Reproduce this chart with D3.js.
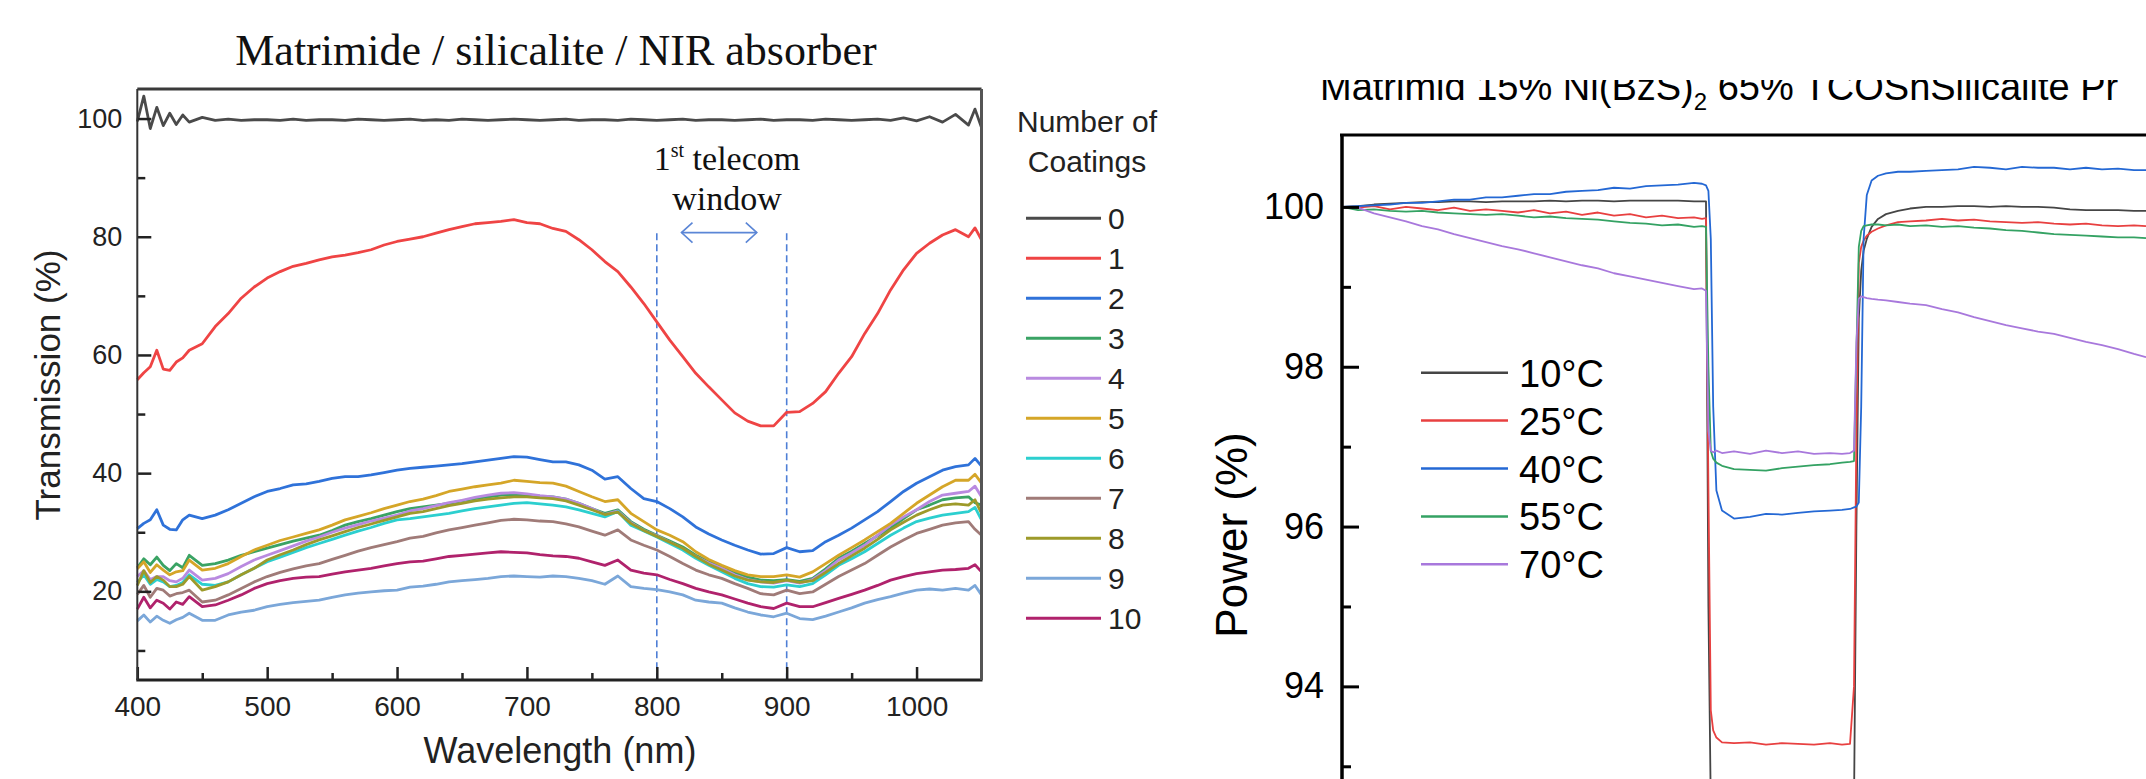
<!DOCTYPE html>
<html lang="en">
<head>
<meta charset="UTF-8">
<title>Matrimide / silicalite / NIR absorber</title>
<script src="https://d3js.org/d3.v7.min.js"></script>
<style>
  body { margin: 0; background: #fff; }
  svg { display: block; background: #fff; }
</style>
</head>
<body>
<svg width="2146" height="779"></svg>
<script>
// ---------- left chart: transmission spectra ----------
let wavelength = [400,405,410,415,420,425,430,435,440,
  450,460,470,480,490,
  500,510,520,530,540,550,560,570,580,590,
  600,610,620,630,640,650,660,670,680,690,
  700,710,720,730,740,750,760,770,780,790,
  800,810,820,830,840,850,860,870,880,890,
  900,910,920,930,940,950,960,970,980,990,
  1000,1010,1020,1030,1040,1045,1050];

let coat0 = [99.5,103.8,98.3,101.9,98.8,100.9,99.0,100.6,99.4,
  100.2,99.7,99.9,99.7,99.8,
  99.8,99.7,99.9,99.7,99.8,99.8,99.7,99.9,99.8,99.7,
  99.8,99.9,99.7,99.8,99.7,99.9,99.8,99.7,99.8,99.9,
  99.8,99.7,99.8,99.9,99.7,99.8,99.8,99.7,99.9,99.8,
  99.7,99.8,99.9,99.7,99.8,99.8,99.7,99.8,99.9,99.7,
  99.8,99.8,99.7,99.9,99.8,99.7,99.8,99.9,99.7,100.1,
  99.6,100.3,99.4,100.7,98.9,101.6,98.5];
let coat1 = [55.8,57.0,58.0,60.8,57.6,57.4,58.8,59.5,60.8,
  61.9,64.8,67.0,69.6,71.5,
  73.0,74.1,75.0,75.5,76.1,76.6,76.9,77.3,77.8,78.6,
  79.2,79.6,80.0,80.6,81.2,81.7,82.2,82.4,82.6,82.9,
  82.4,82.2,81.4,80.9,79.5,77.8,75.8,74.1,71.5,68.7,
  65.6,62.5,59.7,56.9,54.6,52.4,50.2,48.8,48.0,48.0,
  50.3,50.4,51.8,53.8,56.9,59.7,63.6,67.0,71.0,74.4,
  77.2,78.9,80.3,81.2,80.0,81.5,79.5];
let coat2 = [30.6,31.5,32.1,33.8,31.2,30.5,30.4,32.1,32.9,
  32.3,32.9,33.8,34.9,36.0,
  36.9,37.4,38.0,38.2,38.6,39.1,39.4,39.4,39.7,40.1,
  40.5,40.8,41.0,41.2,41.4,41.6,41.9,42.2,42.5,42.8,
  42.7,42.3,41.9,41.9,41.4,40.5,39.0,39.4,37.4,35.7,
  35.2,34.0,32.6,30.9,29.7,28.7,27.8,27.0,26.3,26.4,
  27.4,26.7,26.9,28.4,29.5,30.7,32.1,33.5,35.2,36.9,
  38.3,39.4,40.5,41.1,41.4,42.5,41.2];
let coat3 = [24.0,25.5,24.5,25.8,24.4,23.5,24.7,24.0,26.1,
  24.4,24.7,25.3,26.1,26.7,
  27.3,27.9,28.5,29.0,29.5,30.3,31.2,31.8,32.3,32.9,
  33.5,34.0,34.3,34.6,34.9,35.3,35.7,36.0,36.3,36.4,
  36.3,36.1,36.0,35.6,34.9,34.0,33.2,33.8,31.8,30.5,
  29.5,28.5,27.5,26.1,25.0,24.2,23.2,22.4,21.9,21.8,
  22.0,21.7,22.2,23.8,25.6,26.8,28.1,29.4,30.7,32.3,
  33.8,34.6,35.5,35.8,36.0,35.0,34.6];
let coat4 = [22.5,23.5,22.0,22.5,22.5,21.8,21.6,22.2,23.6,
  21.9,22.2,23.0,24.2,25.3,
  26.1,26.9,27.7,28.5,29.2,30.0,30.7,31.3,31.9,32.4,
  32.9,33.6,34.0,34.5,35.0,35.4,35.9,36.3,36.6,36.7,
  36.5,36.2,36.0,35.6,34.9,34.0,33.0,33.6,31.6,30.3,
  29.4,28.3,27.2,25.9,24.8,23.9,22.8,22.0,21.6,21.4,
  21.8,21.4,22.0,23.5,25.3,26.5,27.8,29.5,31.2,32.6,
  33.8,35.2,36.3,36.6,36.9,37.8,36.0];
let coat5 = [23.8,25.0,23.2,24.5,23.6,22.8,23.3,23.5,25.3,
  23.6,23.9,24.7,25.9,27.0,
  27.8,28.6,29.2,29.8,30.4,31.2,32.1,32.7,33.3,34.0,
  34.6,35.2,35.6,36.2,36.9,37.3,37.7,38.0,38.3,38.8,
  38.6,38.4,38.3,37.8,36.9,36.0,35.2,35.5,33.2,31.8,
  30.4,29.5,28.4,26.7,25.4,24.4,23.5,22.8,22.5,22.5,
  22.8,22.4,23.3,24.7,26.1,27.4,28.7,30.1,31.5,33.2,
  34.9,36.3,37.7,38.8,38.8,39.8,38.3];
let coat6 = [21.5,22.8,21.2,22.0,21.6,20.8,21.0,21.5,22.8,
  21.2,21.0,21.6,22.8,23.9,
  25.0,25.8,26.6,27.4,28.1,28.8,29.5,30.2,30.8,31.5,
  32.1,32.3,32.6,32.9,33.2,33.6,34.0,34.3,34.6,34.9,
  35.0,34.8,34.6,34.3,33.8,33.2,32.6,33.5,31.2,30.2,
  29.2,28.1,27.0,25.6,24.4,23.3,22.2,21.3,20.8,20.7,
  21.1,20.8,21.3,22.8,24.4,25.5,26.7,28.1,29.5,30.7,
  31.8,32.4,32.9,33.2,33.5,34.2,32.1];
let coat7 = [19.5,21.0,19.0,20.5,20.2,19.2,19.6,19.8,20.2,
  18.2,18.5,19.4,20.5,21.6,
  22.5,23.2,23.8,24.3,24.7,25.4,26.1,26.8,27.4,27.9,
  28.4,29.0,29.3,29.9,30.4,30.8,31.2,31.6,32.0,32.2,
  32.1,31.9,31.8,31.4,30.9,30.2,29.5,30.4,28.7,27.8,
  27.0,25.9,24.7,23.6,22.8,22.2,21.3,20.5,19.6,19.4,
  20.2,19.6,19.9,21.2,22.5,23.6,24.7,26.1,27.5,28.7,
  29.8,30.5,31.2,31.6,31.8,30.5,29.5];
let coat8 = [21.0,23.5,21.5,22.5,21.9,20.8,20.8,21.2,22.5,
  20.2,20.8,21.6,22.8,23.9,
  25.3,26.2,27.0,27.9,28.7,29.4,30.1,30.8,31.4,32.0,
  32.6,33.2,33.5,34.0,34.5,34.9,35.3,35.6,35.8,36.0,
  36.0,35.8,35.7,35.3,34.6,33.8,33.0,33.4,31.5,30.3,
  29.3,28.3,27.3,25.9,24.6,23.6,22.6,21.9,21.6,21.5,
  21.9,21.5,21.8,23.2,24.7,26.0,27.3,28.8,30.4,31.7,
  32.9,33.8,34.6,34.8,34.6,35.5,33.2];
let coat9 = [15.0,16.0,14.8,15.8,15.1,14.6,15.2,15.6,16.3,
  15.1,15.1,16.0,16.5,16.8,
  17.4,17.8,18.1,18.3,18.5,19.0,19.4,19.7,19.9,20.1,
  20.2,20.7,20.9,21.2,21.6,21.8,22.0,22.2,22.5,22.6,
  22.5,22.4,22.6,22.5,22.2,21.8,21.2,22.6,20.8,20.5,
  20.3,19.9,19.4,18.5,18.2,18.0,17.2,16.5,16.0,15.7,
  16.3,15.4,15.2,15.8,16.5,17.2,18.0,18.6,19.1,19.7,
  20.2,20.4,20.2,20.5,20.2,21.0,19.4];
let coat10 = [17.0,19.0,17.2,18.5,18.0,17.0,18.2,17.8,19.1,
  17.4,17.7,18.5,19.4,20.5,
  21.3,21.8,22.2,22.4,22.5,22.9,23.3,23.6,23.9,24.3,
  24.7,25.0,25.1,25.5,25.9,26.1,26.3,26.5,26.7,26.6,
  26.5,26.2,26.0,25.9,25.6,25.0,24.4,25.3,23.6,23.1,
  22.8,22.0,21.3,20.5,19.9,19.4,18.7,18.0,17.4,17.1,
  18.0,17.4,17.4,18.1,18.8,19.5,20.2,21.0,21.9,22.5,
  23.0,23.3,23.6,23.7,23.9,24.5,23.3];

let coatSeries = [coat0, coat1, coat2, coat3, coat4, coat5, coat6, coat7, coat8, coat9, coat10];
let coatLabels = ["0","1","2","3","4","5","6","7","8","9","10"];
let coatColors = ["#4a4a4a","#ef4444","#2f72d9","#3aa364","#b98ae0","#d5a628",
                  "#2ccfcf","#a07b78","#9d9a2a","#7ba7d9","#b0226c"];
let wlTicks = [400,500,600,700,800,900,1000];
let wlMinor = [450,550,650,750,850,950];
let trTicks = [20,40,60,80,100];
let trMinor = [10,30,50,70,90];

// ---------- right chart: power vs time ----------
let time = [0,20,40,60,80,100,120,140,160,180,200,220,240,260,280,300,320,340,360,380,400,420,440,
  450,455,458,461,464,468,475,490,
  510,530,550,570,590,610,
  625,635,640,643,646,649,652,656,662,670,680,695,
  710,730,750,770,790,810,830,850,870,890,910,930,950,970,990,1005];

let p10 = [100.00,100.01,100.03,100.04,100.05,100.06,100.06,100.07,100.07,100.06,100.07,100.07,100.07,100.08,100.07,100.08,100.08,100.07,100.08,100.08,100.08,100.08,100.07,
  100.07,100.07,95.0,92.5,92.5,92.5,92.5,92.5,
  92.5,92.5,92.5,92.5,92.5,92.5,
  92.5,92.5,92.5,96.0,98.6,99.2,99.45,99.6,99.75,99.85,99.91,99.95,
  99.98,100.0,100.0,100.01,100.01,100.0,100.01,100.0,100.0,99.99,99.97,99.96,99.96,99.96,99.95,99.95];
let p25 = [100.00,99.99,100.01,99.97,100.0,99.98,99.96,99.99,99.95,99.97,99.95,99.93,99.96,99.92,99.94,99.90,99.93,99.89,99.91,99.87,99.89,99.86,99.87,
  99.85,99.86,96.5,93.7,93.45,93.36,93.3,93.29,
  93.3,93.27,93.29,93.28,93.27,93.29,
  93.27,93.28,94.0,97.2,99.3,99.5,99.58,99.64,99.69,99.73,99.77,99.81,
  99.82,99.83,99.85,99.83,99.84,99.82,99.81,99.80,99.81,99.79,99.78,99.79,99.77,99.76,99.77,99.76];
let p40 = [100.00,100.01,100.02,100.03,100.05,100.05,100.07,100.09,100.09,100.12,100.12,100.14,100.16,100.16,100.19,100.20,100.21,100.24,100.23,100.26,100.27,100.28,100.30,
  100.29,100.27,100.2,99.6,97.5,96.45,96.2,96.1,
  96.12,96.16,96.15,96.17,96.19,96.2,
  96.21,96.22,96.24,96.25,96.3,97.5,99.6,100.15,100.33,100.39,100.42,100.44,
  100.44,100.45,100.46,100.47,100.5,100.49,100.47,100.5,100.49,100.49,100.47,100.49,100.47,100.48,100.46,100.46];
let p55 = [100.00,99.96,99.97,99.95,99.94,99.95,99.93,99.92,99.91,99.90,99.91,99.89,99.87,99.88,99.86,99.85,99.84,99.82,99.80,99.79,99.77,99.78,99.75,
  99.76,99.75,98.0,96.95,96.85,96.8,96.76,96.72,
  96.71,96.70,96.73,96.75,96.77,96.78,
  96.80,96.81,96.82,98.2,99.5,99.7,99.76,99.77,99.78,99.78,99.77,99.78,
  99.76,99.77,99.75,99.76,99.74,99.73,99.71,99.70,99.68,99.66,99.65,99.64,99.63,99.62,99.62,99.61];
let p70 = [100.00,99.99,99.92,99.87,99.82,99.76,99.72,99.66,99.61,99.56,99.51,99.47,99.42,99.37,99.32,99.27,99.23,99.17,99.13,99.09,99.05,99.01,98.97,
  98.98,98.95,97.2,96.95,96.93,96.95,96.92,96.94,
  96.91,96.95,96.92,96.94,96.91,96.92,
  96.91,96.92,96.95,98.3,98.85,98.88,98.87,98.86,98.85,98.84,98.83,98.81,
  98.79,98.77,98.72,98.68,98.62,98.57,98.52,98.48,98.44,98.41,98.36,98.31,98.27,98.22,98.16,98.12];

let powerSeries = [p10, p25, p40, p55, p70];
let tempLabels = ["10°C","25°C","40°C","55°C","70°C"];
let tempColors = ["#454545","#e84040","#2468d4","#34a263","#a878dc"];
let powTicks = [94,96,98,100];
let powMinor = [93,95,97,99];

const sans = "'Liberation Sans', Arial, sans-serif";
const serif = "'Liberation Serif', 'Times New Roman', serif";

let svg = d3.select("svg");

// ================= LEFT CHART =================
let xL = d3.scaleLinear().domain([400, 1050]).range([137.3, 981.5]);
let yL = d3.scaleLinear().domain([5, 105]).range([680, 89]);

let left = svg.append("g");

// dashed window lines
[800, 900].forEach(function (w) {
    left.append("line")
        .attr("x1", xL(w)).attr("x2", xL(w))
        .attr("y1", yL(80.6)).attr("y2", yL(5))
        .attr("stroke", "#4f7fd6")
        .attr("stroke-width", 1.6)
        .attr("stroke-dasharray", "7,4");
});

// spectra
let lineL = d3.line()
    .x((d, i) => xL(wavelength[i]))
    .y(d => yL(d));

coatSeries.forEach(function (s, k) {
    left.append("path")
        .datum(s)
        .attr("d", lineL)
        .attr("fill", "none")
        .attr("stroke", coatColors[k])
        .attr("stroke-width", 2.8)
        .attr("stroke-linejoin", "round");
});

// double arrow for telecom window
let ax1 = xL(819), ax2 = xL(877), ay = yL(80.7);
left.append("line")
    .attr("x1", ax1).attr("x2", ax2).attr("y1", ay).attr("y2", ay)
    .attr("stroke", "#5b86d6").attr("stroke-width", 1.6);
left.append("path")
    .attr("d", `M${ax1 + 11},${ay - 10}L${ax1},${ay}L${ax1 + 11},${ay + 10}M${ax2 - 11},${ay - 10}L${ax2},${ay}L${ax2 - 11},${ay + 10}`)
    .attr("fill", "none").attr("stroke", "#5b86d6").attr("stroke-width", 1.6);

let ann = left.append("text")
    .attr("x", 727).attr("y", 170)
    .attr("text-anchor", "middle")
    .attr("font-family", serif).attr("font-size", 34).attr("fill", "#111");
ann.append("tspan").text("1");
ann.append("tspan").attr("font-size", 20).attr("dy", -13).text("st");
ann.append("tspan").attr("dy", 13).text(" telecom");
left.append("text")
    .attr("x", 727).attr("y", 210)
    .attr("text-anchor", "middle")
    .attr("font-family", serif).attr("font-size", 34).attr("fill", "#111")
    .text("window");

// axes (ticks point inward)
let gx = left.append("g")
    .attr("transform", `translate(0, ${yL(5)})`)
    .call(d3.axisBottom(xL).tickValues(wlTicks).tickFormat(d3.format("d")).tickSize(-13).tickPadding(16));
gx.append("g").call(d3.axisBottom(xL).tickValues(wlMinor).tickSize(-7).tickFormat(""));
gx.selectAll(".domain").remove();
gx.selectAll("line").attr("stroke", "#222").attr("stroke-width", 2.5);
gx.selectAll("text").attr("font-family", sans).attr("font-size", 28).attr("fill", "#222");

let gy = left.append("g")
    .attr("transform", `translate(${xL(400)}, 0)`)
    .call(d3.axisLeft(yL).tickValues(trTicks).tickSize(-14).tickPadding(15));
gy.append("g").call(d3.axisLeft(yL).tickValues(trMinor).tickSize(-8).tickFormat(""));
gy.selectAll(".domain").remove();
gy.selectAll("line").attr("stroke", "#222").attr("stroke-width", 2.5);
gy.selectAll("text").attr("font-family", sans).attr("font-size", 27).attr("fill", "#222");

// frame
let [fx0, fx1] = xL.range();
let [fy1, fy0] = yL.range();
left.append("line").attr("x1", fx0).attr("x2", fx1).attr("y1", fy0).attr("y2", fy0)
    .attr("stroke", "#3a3a3a").attr("stroke-width", 3);
left.append("line").attr("x1", fx0 - 1).attr("x2", fx1 + 1).attr("y1", fy1).attr("y2", fy1)
    .attr("stroke", "#222").attr("stroke-width", 3);
left.append("line").attr("x1", fx0).attr("x2", fx0).attr("y1", fy0).attr("y2", fy1)
    .attr("stroke", "#333").attr("stroke-width", 2);
left.append("line").attr("x1", fx1).attr("x2", fx1).attr("y1", fy0).attr("y2", fy1)
    .attr("stroke", "#555").attr("stroke-width", 3);

// titles
left.append("text")
    .attr("x", 556).attr("y", 65)
    .attr("text-anchor", "middle")
    .attr("font-family", serif).attr("font-size", 44).attr("fill", "#111")
    .text("Matrimide / silicalite / NIR absorber");
left.append("text")
    .attr("x", 560).attr("y", 763)
    .attr("text-anchor", "middle")
    .attr("font-family", sans).attr("font-size", 36).attr("fill", "#222")
    .text("Wavelength (nm)");
left.append("text")
    .attr("transform", `translate(60, 385) rotate(-90)`)
    .attr("text-anchor", "middle")
    .attr("font-family", sans).attr("font-size", 35).attr("fill", "#222")
    .text("Transmission (%)");

// legend
let legL = left.append("g").attr("font-family", sans).attr("fill", "#222");
legL.append("text").attr("x", 1087).attr("y", 132).attr("text-anchor", "middle")
    .attr("font-size", 30).text("Number of");
legL.append("text").attr("x", 1087).attr("y", 172).attr("text-anchor", "middle")
    .attr("font-size", 30).text("Coatings");
coatLabels.forEach(function (lab, k) {
    let yy = 218.3 + k * 40;
    legL.append("line").attr("x1", 1026).attr("x2", 1101).attr("y1", yy).attr("y2", yy)
        .attr("stroke", coatColors[k]).attr("stroke-width", 3);
    legL.append("text").attr("x", 1108).attr("y", yy + 11).attr("font-size", 30).text(lab);
});

// ================= RIGHT CHART =================
let xR = d3.scaleLinear().domain([0, 1005]).range([1342, 2146]);
let yR = d3.scaleLinear().domain([92, 100.9]).range([846.2, 135]);

let right = svg.append("g");

let lineR = d3.line()
    .x((d, i) => xR(time[i]))
    .y(d => yR(d));

powerSeries.forEach(function (s, k) {
    right.append("path")
        .datum(s)
        .attr("d", lineR)
        .attr("fill", "none")
        .attr("stroke", tempColors[k])
        .attr("stroke-width", 1.8)
        .attr("stroke-linejoin", "round");
});

let gyR = right.append("g")
    .attr("transform", `translate(${xR(0)}, 0)`)
    .call(d3.axisLeft(yR).tickValues(powTicks).tickSize(-17).tickPadding(18));
gyR.append("g").call(d3.axisLeft(yR).tickValues(powMinor).tickSize(-9).tickFormat(""));
gyR.selectAll(".domain").remove();
gyR.selectAll("line").attr("stroke", "#000").attr("stroke-width", 3);
gyR.selectAll("text").attr("font-family", sans).attr("font-size", 36).attr("fill", "#000");

// frame: left spine + top line
right.append("line").attr("x1", xR(0)).attr("x2", xR(0)).attr("y1", yR(100.9)).attr("y2", 779)
    .attr("stroke", "#000").attr("stroke-width", 3.5);
right.append("line").attr("x1", xR(0) - 2).attr("x2", 2146).attr("y1", yR(100.9)).attr("y2", yR(100.9))
    .attr("stroke", "#000").attr("stroke-width", 3);

right.append("text")
    .attr("transform", `translate(1247, 535) rotate(-90)`)
    .attr("text-anchor", "middle")
    .attr("font-family", sans).attr("font-size", 44).attr("fill", "#000")
    .text("Power (%)");

// legend
tempLabels.forEach(function (lab, k) {
    let yy = 372.7 + k * 47.9;
    right.append("line").attr("x1", 1421).attr("x2", 1508).attr("y1", yy).attr("y2", yy)
        .attr("stroke", tempColors[k]).attr("stroke-width", 2.5);
    right.append("text").attr("x", 1519).attr("y", yy + 14)
        .attr("font-family", sans).attr("font-size", 38).attr("fill", "#000").text(lab);
});

// title, top part cut off as in the source picture
svg.append("clipPath").attr("id", "titleClip")
    .append("rect").attr("x", 1200).attr("y", 80).attr("width", 946).attr("height", 60);
let tR = right.append("text")
    .attr("clip-path", "url(#titleClip)")
    .attr("x", 1320).attr("y", 100)
    .attr("font-family", sans).attr("font-size", 38).attr("fill", "#000");
tR.append("tspan").text("Matrimid 15% Ni(BzS)");
tR.append("tspan").attr("font-size", 24).attr("dy", 10).text("2");
tR.append("tspan").attr("dy", -10).text(" 65% TCOShSilicalite Pr");
</script>
</body>
</html>
